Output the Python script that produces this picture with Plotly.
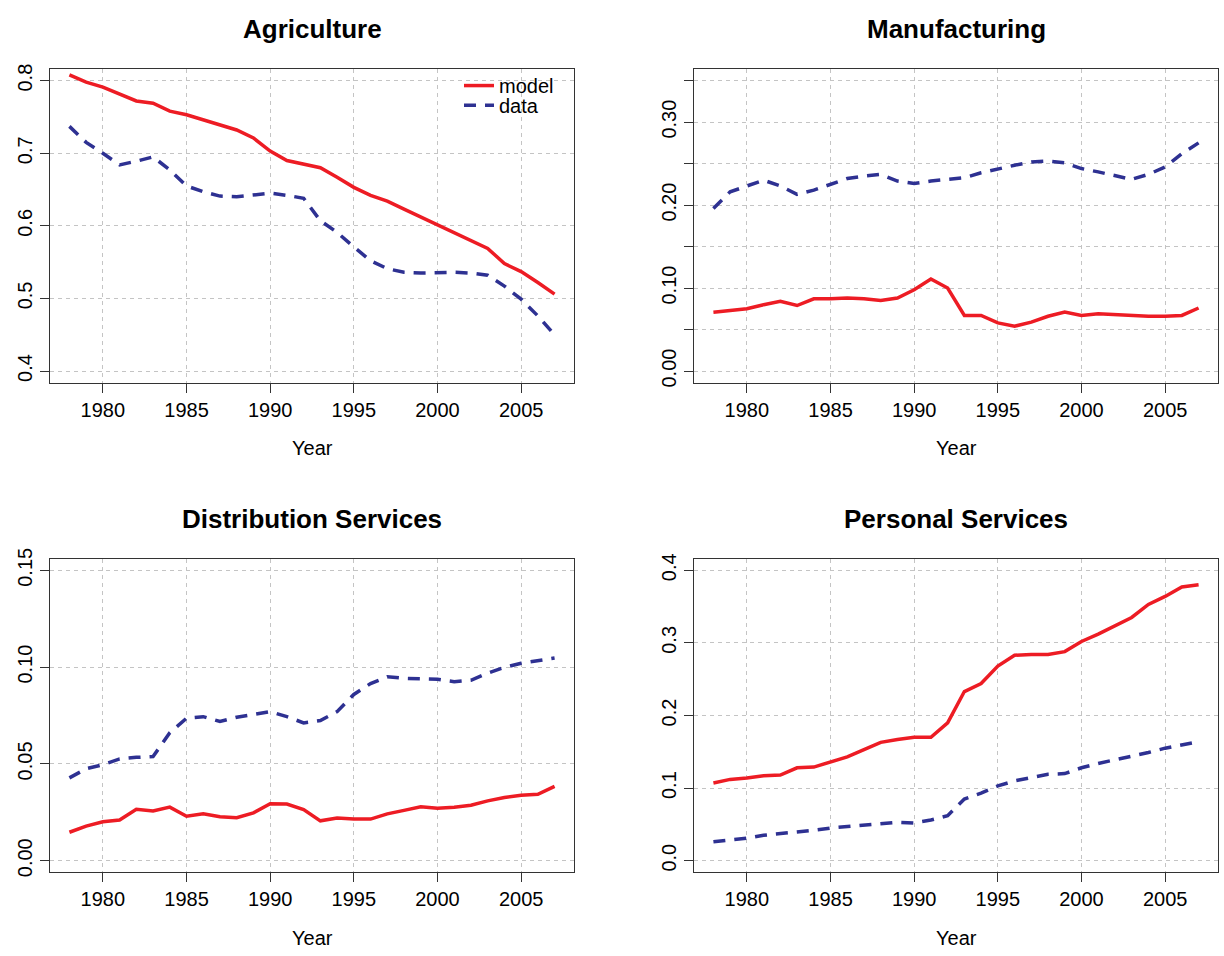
import plotly.graph_objects as go

years = list(range(1978, 2008))

agri_model = [0.808, 0.798, 0.791, 0.782, 0.772, 0.769, 0.758, 0.753, 0.746, 0.740,
              0.732, 0.721, 0.703, 0.690, 0.685, 0.680, 0.667, 0.653, 0.642, 0.634,
              0.623, 0.612, 0.602, 0.591, 0.580, 0.569, 0.548, 0.537, 0.522, 0.506]
agri_data = [0.737, 0.715, 0.700, 0.684, 0.689, 0.695, 0.677, 0.655, 0.647, 0.641,
             0.640, 0.643, 0.645, 0.642, 0.638, 0.607, 0.591, 0.571, 0.552, 0.541,
             0.536, 0.535, 0.536, 0.536, 0.535, 0.532, 0.517, 0.499, 0.476, 0.450]

manu_model = [0.071, 0.073, 0.075, 0.080, 0.084, 0.079, 0.087, 0.087, 0.088, 0.087,
              0.085, 0.088, 0.098, 0.111, 0.100, 0.067, 0.067, 0.058, 0.054, 0.059,
              0.066, 0.071, 0.067, 0.069, 0.068, 0.066, 0.066, 0.066, 0.067, 0.076]
manu_data = [0.196, 0.216, 0.223, 0.230, 0.223, 0.213, 0.218, 0.225, 0.232, 0.235,
             0.237, 0.229, 0.226, 0.229, 0.231, 0.233, 0.239, 0.244, 0.248, 0.252,
             0.253, 0.251, 0.244, 0.240, 0.235, 0.231, 0.237, 0.246, 0.262, 0.275]

dist_model = [0.0147, 0.0179, 0.0201, 0.0210, 0.0266, 0.0257, 0.0277, 0.0230, 0.0242, 0.0227,
              0.0222, 0.0247, 0.0294, 0.0293, 0.0264, 0.0206, 0.0220, 0.0215, 0.0215, 0.0242,
              0.0260, 0.0279, 0.0271, 0.0276, 0.0287, 0.0309, 0.0326, 0.0338, 0.0343, 0.0384]
dist_data = [0.0428, 0.0475, 0.0496, 0.0526, 0.0534, 0.0538, 0.0661, 0.0736, 0.0744, 0.0719,
             0.0741, 0.0754, 0.0770, 0.0744, 0.0712, 0.0724, 0.0770, 0.0859, 0.0915, 0.0950,
             0.0942, 0.0940, 0.0937, 0.0925, 0.0932, 0.0969, 0.0999, 0.1020, 0.1033, 0.1047]

pers_model = [0.107, 0.112, 0.114, 0.117, 0.118, 0.128, 0.129, 0.136, 0.143, 0.153,
              0.163, 0.167, 0.170, 0.170, 0.190, 0.233, 0.244, 0.268, 0.283, 0.284,
              0.284, 0.288, 0.302, 0.312, 0.323, 0.335, 0.353, 0.364, 0.377, 0.380]
pers_data = [0.026, 0.028, 0.031, 0.035, 0.037, 0.040, 0.042, 0.045, 0.047, 0.050,
             0.051, 0.053, 0.052, 0.056, 0.062, 0.085, 0.093, 0.103, 0.110, 0.115,
             0.119, 0.120, 0.128, 0.134, 0.139, 0.143, 0.149, 0.155, 0.159, 0.164]

titles = ["Agriculture", "Manufacturing", "Distribution Services", "Personal Services"]
model_series = [agri_model, manu_model, dist_model, pers_model]
data_series = [agri_data, manu_data, dist_data, pers_data]
ylims = [(0.4, 0.8), (0.0, 0.35), (0.0, 0.15), (0.0, 0.4)]
ytick_vals = [
    [0.4, 0.5, 0.6, 0.7, 0.8],
    [0.0, 0.05, 0.10, 0.15, 0.20, 0.25, 0.30, 0.35],
    [0.0, 0.05, 0.10, 0.15],
    [0.0, 0.1, 0.2, 0.3, 0.4],
]
ytick_text = [
    ["0.4", "0.5", "0.6", "0.7", "0.8"],
    ["0.00", "", "0.10", "", "0.20", "", "0.30", ""],
    ["0.00", "0.05", "0.10", "0.15"],
    ["0.0", "0.1", "0.2", "0.3", "0.4"],
]
xtick_vals = [1980, 1985, 1990, 1995, 2000, 2005]
xlabel = "Year"
series_names = ["model", "data"]

W, H = 1224, 956
RED = "#ED1C24"
BLUE = "#2E3192"
GRID = "#c4c4c4"
FONT = "Liberation Sans, Arial, Helvetica, sans-serif"

# plot boxes in pixels (left, right, top, bottom)
boxes = [(50, 574, 59, 378), (694, 1218, 59, 378),
         (50, 574, 557, 876), (694, 1218, 557, 876)]

fig = go.Figure()

xr = (min(years), max(years))
xpad = (xr[1] - xr[0]) * 0.04
xrange = [xr[0] - xpad, xr[1] + xpad]

layout = {}
annotations = []
for i in range(4):
    l, r, t, b = boxes[i]
    xa = "x" if i == 0 else f"x{i+1}"
    ya = "y" if i == 0 else f"y{i+1}"
    xkey = "xaxis" if i == 0 else f"xaxis{i+1}"
    ykey = "yaxis" if i == 0 else f"yaxis{i+1}"
    lo, hi = ylims[i]
    ypad = (hi - lo) * 0.04
    layout[xkey] = dict(
        domain=[l / W, r / W], anchor=ya, range=xrange,
        tickvals=xtick_vals, ticks="outside", ticklen=9, tickwidth=1,
        tickcolor="#333", showline=True, linecolor="#333", linewidth=1,
        mirror=True, showgrid=True, gridcolor=GRID, griddash="4px,4px",
        gridwidth=1, zeroline=False,
        tickfont=dict(family=FONT, size=20, color="black"),
    )
    layout[ykey] = dict(
        domain=[1 - b / H, 1 - t / H], anchor=xa, range=[lo - ypad, hi + ypad],
        tickvals=ytick_vals[i], ticktext=ytick_text[i], tickangle=-90,
        ticks="outside", ticklen=9, tickwidth=1, tickcolor="#333",
        showline=True, linecolor="#333", linewidth=1, mirror=True,
        showgrid=True, gridcolor=GRID, griddash="4px,4px", gridwidth=1,
        zeroline=False,
        tickfont=dict(family=FONT, size=20, color="black"),
    )
    fig.add_trace(go.Scatter(
        x=years, y=model_series[i], mode="lines", name=series_names[0],
        line=dict(color=RED, width=3.5), xaxis=xa, yaxis=ya,
        showlegend=(i == 0), legend="legend",
    ))
    fig.add_trace(go.Scatter(
        x=years, y=data_series[i], mode="lines", name=series_names[1],
        line=dict(color=BLUE, width=3.5, dash="12px,9px"), xaxis=xa, yaxis=ya,
        showlegend=(i == 0), legend="legend2",
    ))
    cx = (l + r) / 2 / W
    annotations.append(dict(
        text=f"<b>{titles[i]}</b>", x=cx, y=1 - (t - 40.3) / H,
        xref="paper", yref="paper", xanchor="center", yanchor="middle",
        showarrow=False, font=dict(family=FONT, size=26, color="black"),
    ))
    annotations.append(dict(
        text=xlabel, x=cx, y=1 - (b + 66.5) / H,
        xref="paper", yref="paper", xanchor="center", yanchor="middle",
        showarrow=False, font=dict(family=FONT, size=20, color="black"),
    ))

legend_common = dict(
    xanchor="left", yanchor="top", bgcolor="rgba(0,0,0,0)", borderwidth=0,
    tracegroupgap=0, font=dict(family=FONT, size=20, color="black"),
)
fig.update_layout(
    width=W, height=H, autosize=False,
    margin=dict(l=0, r=0, t=0, b=0),
    paper_bgcolor="white", plot_bgcolor="white",
    annotations=annotations,
    showlegend=True,
    legend=dict(x=459 / W, y=1 - 56 / H, **legend_common),
    legend2=dict(x=459 / W, y=1 - 76 / H, **legend_common),
    **layout,
)

fig.write_html("out.html")
